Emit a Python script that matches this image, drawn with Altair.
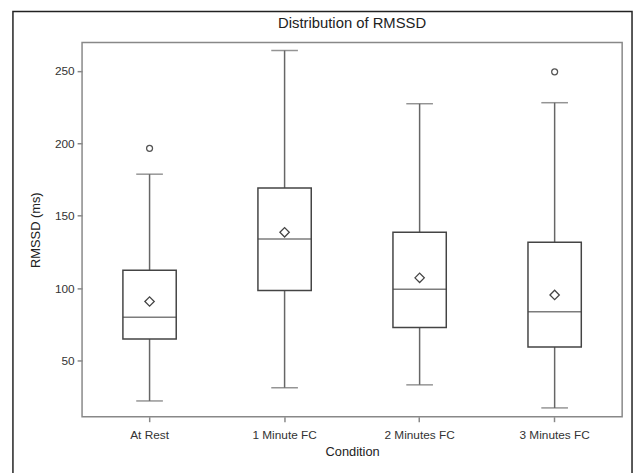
import altair as alt
import pandas as pd

conditions = ["At Rest", "1 Minute FC", "2 Minutes FC", "3 Minutes FC"]
lower = [22.3, 31.4, 33.4, 17.5]
q1 = [65.0, 98.4, 72.9, 59.5]
median = [80.0, 134.0, 99.3, 83.8]
q3 = [112.4, 169.2, 138.6, 131.7]
upper = [178.7, 264.0, 227.3, 228.0]
mean = [90.9, 138.6, 107.2, 95.4]
outlier_cond = ["At Rest", "3 Minutes FC"]
outlier_val = [196.5, 249.3]

df = pd.DataFrame({"Condition": conditions, "lower": lower, "q1": q1,
                   "median": median, "q3": q3, "upper": upper, "mean": mean})
out_df = pd.DataFrame({"Condition": outlier_cond, "value": outlier_val})

W, H = 547, 379
FONT = "Liberation Sans"

xenc = alt.X("Condition:N", sort=conditions, title="Condition",
             scale=alt.Scale(paddingInner=0, paddingOuter=0),
             axis=alt.Axis(labelAngle=0, domain=False, ticks=True, tickColor="#888888",
                           tickSize=5, tickWidth=1.5, labelFontSize=12, labelColor="#333333",
                           titleFontSize=13, titleFontWeight="normal", titleColor="#222222",
                           labelPadding=8, titlePadding=5, labelFont=FONT, titleFont=FONT))
yscale = alt.Scale(domain=[11.4, 269.5], nice=False, zero=False)
yaxis = alt.Axis(values=[50, 100, 150, 200, 250], domain=False, grid=False,
                 tickColor="#888888", tickSize=5, tickWidth=1.5, labelFontSize=12,
                 labelColor="#333333",
                 titleFontSize=13, titleFontWeight="normal", titleColor="#222222",
                 labelPadding=3, titlePadding=12, labelFont=FONT, titleFont=FONT)

base = alt.Chart(df)

whisker = base.mark_rule(color="#666666", strokeWidth=1.5).encode(
    x=xenc,
    y=alt.Y("lower:Q", scale=yscale, axis=yaxis, title="RMSSD (ms)"),
    y2="upper:Q",
)
caps_low = base.mark_tick(color="#666666", thickness=1.5, size=27, orient="horizontal").encode(
    x=alt.X("Condition:N", sort=conditions), y="lower:Q")
caps_up = base.mark_tick(color="#666666", thickness=1.5, size=27, orient="horizontal").encode(
    x=alt.X("Condition:N", sort=conditions), y="upper:Q")
box = base.mark_bar(fill="white", stroke="#444444", strokeWidth=1.5, size=54).encode(
    x=alt.X("Condition:N", sort=conditions), y="q1:Q", y2="q3:Q")
med = base.mark_tick(color="#444444", thickness=1.5, size=54, orient="horizontal").encode(
    x=alt.X("Condition:N", sort=conditions), y="median:Q")
mn = base.mark_point(shape="diamond", filled=False, color="#444444", strokeWidth=1.3,
                     size=90, opacity=1).encode(
    x=alt.X("Condition:N", sort=conditions), y="mean:Q")
outl = alt.Chart(out_df).mark_point(shape="circle", filled=False, color="#555555",
                                    strokeWidth=1.3, size=36, opacity=1).encode(
    x=alt.X("Condition:N", sort=conditions), y="value:Q")

border = alt.Chart(pd.DataFrame({"a": [0]})).mark_rect(
    fill=None, stroke="#222222", strokeWidth=1.5, clip=False).encode(
    x=alt.value(-70), x2=alt.value(557), y=alt.value(-31.5), y2=alt.value(460))

chart = alt.layer(border, whisker, caps_low, caps_up, box, med, mn, outl).properties(
    width=W, height=H,
    title=alt.TitleParams("Distribution of RMSSD", fontSize=15, fontWeight="normal",
                          font=FONT, color="#222222", anchor="middle", offset=0,
                          dy=33, baseline="alphabetic", frame="group"),
    autosize=alt.AutoSizeParams(type="none"),
    padding={"left": 75, "top": 32, "right": 12, "bottom": 54},
    background="white",
).configure_view(stroke="#888888", strokeWidth=1.5)

chart.save("out.html", embed_options={"renderer": "svg", "actions": False})
